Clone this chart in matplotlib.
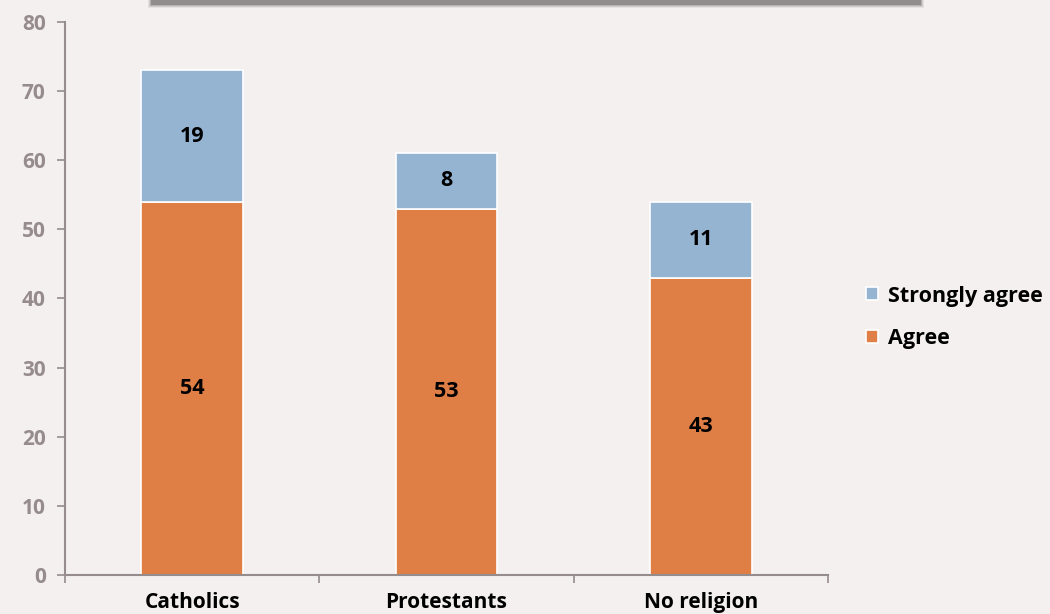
import matplotlib.pyplot as plt
import matplotlib.patches as mpatches
import numpy as np

categories = ["Catholics", "Protestants", "No religion"]
agree = [54, 53, 43]
strongly_agree = [19, 8, 11]

BG = "#F4F0EF"
ORANGE = "#DF7F46"
BLUE = "#94B4D2"
GRAY = "#968C8C"

plt.rcParams['font.family'] = ['Open Sans', 'DejaVu Sans']
plt.rcParams['font.weight'] = 'bold'

fig = plt.figure(figsize=(10.5, 6.14), dpi=100, facecolor=BG)
ax = fig.add_axes([0.062, 0.0635, 0.7265, 0.9007])
ax.set_facecolor(BG)

x = np.arange(len(categories))
b1 = ax.bar(x, agree, width=0.4, color=ORANGE, edgecolor="white", linewidth=1.2, label="Agree")
b2 = ax.bar(x, strongly_agree, width=0.4, bottom=agree, color=BLUE, edgecolor="white",
            linewidth=1.2, label="Strongly agree")

# data labels
for i in range(len(categories)):
    ax.text(x[i], agree[i] / 2, str(agree[i]), ha="center", va="center",
            fontsize=15.5, fontweight="bold", color="black")
    ax.text(x[i], agree[i] + strongly_agree[i] / 2, str(strongly_agree[i]), ha="center",
            va="center", fontsize=15.5, fontweight="bold", color="black")

ax.set_xlim(-0.5, len(categories) - 0.5)
ax.set_ylim(0, 80)
ax.set_yticks(range(0, 81, 10))
ax.tick_params(axis="y", labelsize=15, labelcolor=GRAY, color=GRAY, length=6, width=1.2, pad=8)
for lab in ax.get_yticklabels():
    lab.set_fontweight("bold")

# category ticks between groups
ax.set_xticks(np.arange(-0.5, len(categories), 1.0))
ax.set_xticklabels([])
ax.set_xticks(x, minor=True)
ax.set_xticklabels(categories, minor=True, fontsize=15, fontweight="bold")
ax.tick_params(axis="x", which="major", color=GRAY, length=6, width=1.2)
ax.tick_params(axis="x", which="minor", length=0, pad=12)

for s in ["top", "right"]:
    ax.spines[s].set_visible(False)
for s in ["left", "bottom"]:
    ax.spines[s].set_color(GRAY)
    ax.spines[s].set_linewidth(1.5)

handles = [b2, b1]
ax.legend(handles, ["Strongly agree", "Agree"], loc="center left", bbox_to_anchor=(1.025, 0.466),
          frameon=False, prop={"size": 15.5, "weight": "bold"}, handlelength=0.55,
          handleheight=0.55, handletextpad=0.45, labelspacing=1.0)

# shadow of a box edge peeking in at the top
for k, a in enumerate([0.06, 0.09, 0.13, 0.2]):
    d = (4 - k) * 1.0
    fig.patches.append(mpatches.Rectangle(((152 - d) / 1050, (610 - d) / 614),
                                          (768 + 2 * d) / 1050, 20 / 614,
                                          transform=fig.transFigure, facecolor="black",
                                          alpha=a, edgecolor="none"))

fig.savefig("out.png", dpi=100, facecolor=BG)
